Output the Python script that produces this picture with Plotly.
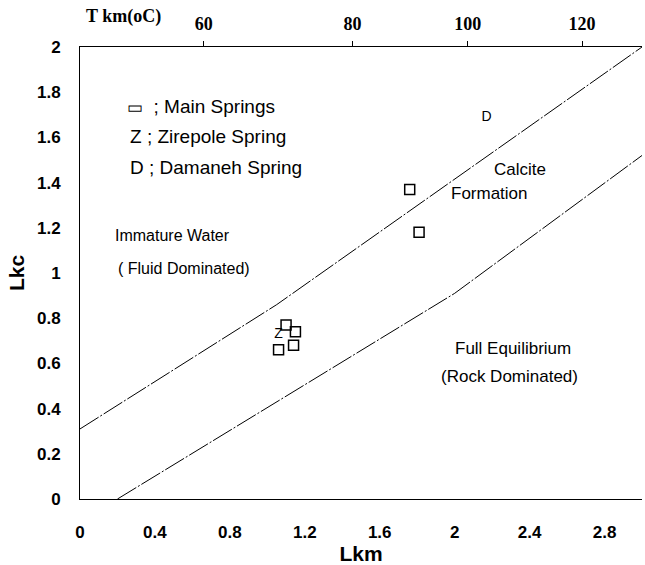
import plotly.graph_objects as go

# ---- data ----
main_lkm = [1.10, 1.15, 1.14, 1.06, 1.76, 1.81]
main_lkc = [0.77, 0.74, 0.68, 0.66, 1.37, 1.18]
zirepole_lkm = [1.06]
zirepole_lkc = [0.73]
damaneh_lkm = [2.17]
damaneh_lkc = [1.69]

upper_lkm = [0.0, 1.05, 3.0]
upper_lkc = [0.31, 0.86, 2.0]
lower_lkm = [0.2, 2.0, 3.0]
lower_lkc = [0.0, 0.91, 1.52]

x_ticks = [0, 0.4, 0.8, 1.2, 1.6, 2, 2.4, 2.8]
x_ticktext = ["0", "0.4", "0.8", "1.2", "1.6", "2", "2.4", "2.8"]
y_ticks = [0, 0.2, 0.4, 0.6, 0.8, 1, 1.2, 1.4, 1.6, 1.8, 2]
y_ticktext = ["0", "0.2", "0.4", "0.6", "0.8", "1", "1.2", "1.4", "1.6", "1.8", "2"]
t_ticks_lkm = [0.66, 1.455, 2.07, 2.68]
t_ticktext = ["60", "80", "100", "120"]

SANS = "Liberation Sans, Arial, sans-serif"
SERIF = "Liberation Serif, Times New Roman, serif"
DASH = "22px,2px,2px,2px"

fig = go.Figure()
fig.add_trace(go.Scatter(x=upper_lkm, y=upper_lkc, mode="lines",
                         line=dict(color="black", width=1, dash=DASH), hoverinfo="skip"))
fig.add_trace(go.Scatter(x=lower_lkm, y=lower_lkc, mode="lines",
                         line=dict(color="black", width=1, dash=DASH), hoverinfo="skip"))
fig.add_trace(go.Scatter(x=main_lkm, y=main_lkc, mode="markers",
                         marker=dict(symbol="square-open", size=10,
                                     line=dict(color="black", width=1.5), color="black")))
fig.add_trace(go.Scatter(x=zirepole_lkm, y=zirepole_lkc, mode="text", text=["Z"],
                         textfont=dict(family=SANS, size=14, color="black")))
fig.add_trace(go.Scatter(x=damaneh_lkm, y=damaneh_lkc, mode="text", text=["D"],
                         textfont=dict(family=SANS, size=14, color="black")))

ann = []
def label(x, y, text, size, anchor="center"):
    ann.append(dict(x=x, y=y, xref="x", yref="y", text=text, showarrow=False,
                    xanchor=anchor, yanchor="middle",
                    font=dict(family=SANS, size=size, color="black")))

label(0.24, 1.735, "<span style='font-size:17px'>▭</span>  ; Main Springs", 19, "left")
label(0.256, 1.602, "Z ; Zirepole Spring", 19, "left")
label(0.256, 1.469, "D ; Damaneh Spring", 19, "left")
label(0.176, 1.168, "Immature Water", 16, "left")
label(0.19, 1.02, "( Fluid Dominated)", 16, "left")
label(2.347, 1.456, "Calcite", 17)
label(2.187, 1.35, "Formation", 17)
label(2.31, 0.668, "Full Equilibrium", 17)
label(2.293, 0.54, "(Rock Dominated)", 17)

ann.append(dict(x=0.23, y=1.0, xref="x", yref="paper", yshift=18, text="<b>T km(oC)</b>",
                showarrow=False, xanchor="center", yanchor="bottom",
                font=dict(family=SERIF, size=18, color="black")))

fig.update_layout(
    width=645, height=565,
    margin=dict(l=80, r=3, t=47, b=66),
    paper_bgcolor="white", plot_bgcolor="white",
    showlegend=False,
    annotations=ann,
    xaxis=dict(range=[0, 3], tickvals=x_ticks, ticktext=x_ticktext,
               showgrid=False, zeroline=False, showline=True, linecolor="black",
               linewidth=1, ticks="", ticklabelstandoff=18,
               tickfont=dict(family=SANS, size=17, color="black", weight="bold"),
               title=dict(text="<b>Lkm</b>", standoff=2,
                          font=dict(family=SANS, size=21, color="black"))),
    xaxis2=dict(range=[0, 3], overlaying="x", side="top", tickvals=t_ticks_lkm,
                ticktext=t_ticktext, showgrid=False, zeroline=False, showline=True,
                linecolor="black", linewidth=1.3, ticks="outside", ticklen=5,
                tickcolor="black", ticklabelstandoff=4,
                tickfont=dict(family=SERIF, size=18, color="black", weight="bold")),
    yaxis=dict(range=[0, 2], tickvals=y_ticks, ticktext=y_ticktext,
               showgrid=False, zeroline=False, showline=True, linecolor="black",
               linewidth=1, ticks="", ticklabelstandoff=15,
               tickfont=dict(family=SANS, size=17, color="black", weight="bold"),
               title=dict(text="<b>Lkc</b>", standoff=6,
                          font=dict(family=SANS, size=21, color="black"))),
)
fig.add_trace(go.Scatter(x=[None], y=[None], xaxis="x2", showlegend=False))

fig.write_html("out.html")
